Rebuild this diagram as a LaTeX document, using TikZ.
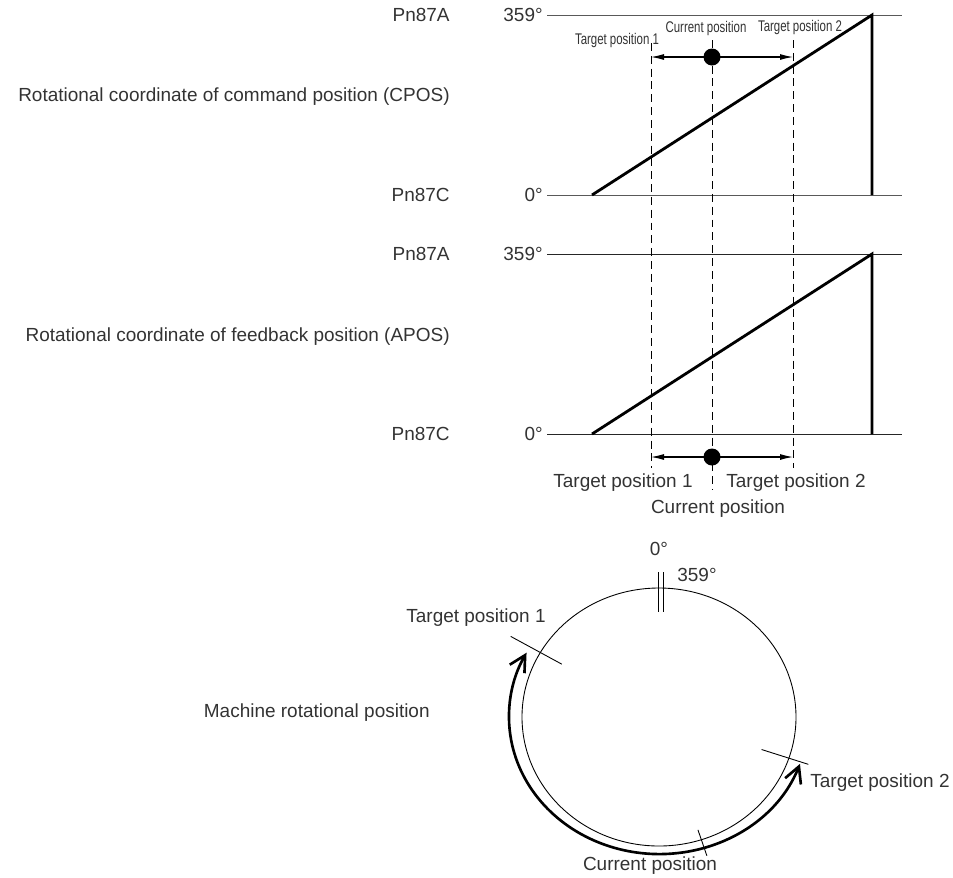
\documentclass[tikz,border=0pt]{standalone}
\usepackage{fontspec}
\setmainfont{Liberation Sans}
\newfontfamily\narrowfont[FakeStretch=0.74]{Liberation Sans}
\usetikzlibrary{positioning,calc,arrows.meta}

\tikzset{
  lbl/.style={font=\fontsize{10.8}{13}\selectfont, text=black!80, inner sep=0pt},
  smalllbl/.style={font=\narrowfont\fontsize{8.8}{10}\selectfont, text=black!80, inner sep=0pt},
  axisline/.style={draw=black!65, line width=0.55pt},
  ramp/.style={line width=1.6pt},
  guide/.style={dash pattern=on 4.5pt off 2.8pt, line width=0.5pt},
  span/.style={{Latex[length=2.6mm,width=1.2mm]}-{Latex[length=2.6mm,width=1.2mm]}, line width=0.6pt},
  posdot/.style={circle, fill=black, inner sep=0pt, minimum size=3.4mm},
  travel/.style={{Straight Barb[length=3.2mm,width=3.4mm]}-{Straight Barb[length=3.2mm,width=3.4mm]}, line width=1.5pt},
}

\begin{document}
\begin{tikzpicture}[x=0.02cm,y=-0.02cm]
  \useasboundingbox (0,0) rectangle (953,877);

  % command position (CPOS)
  \coordinate (CmdTopL) at (547,15);  \coordinate (CmdTopR) at (902,15);
  \coordinate (CmdBotL) at (547,195); \coordinate (CmdBotR) at (902,195);
  \coordinate (CmdStart) at (592,195); \coordinate (CmdPeak) at (872,15); \coordinate (CmdDrop) at (872,195);
  \draw[axisline] (CmdTopL) -- (CmdTopR);
  \draw[axisline] (CmdBotL) -- (CmdBotR);
  \draw[ramp] (CmdStart) -- (CmdPeak) -- (CmdDrop);
  \node[lbl, anchor=east] (CmdMax) at (543,15) {359°};
  \node[lbl, anchor=east] (CmdMin) at (543,195) {0°};
  \node[lbl, anchor=east] (CmdPnA) at (450,15) {Pn87A};
  \node[lbl, anchor=east] (CmdPnC) at (450,195) {Pn87C};
  \node[lbl, anchor=east] (CmdTitle) at (450,97) {Rotational coordinate of command position (CPOS)};

  % feedback position (APOS)
  \coordinate (FbTopL) at (547,254);  \coordinate (FbTopR) at (902,254);
  \coordinate (FbBotL) at (547,434);  \coordinate (FbBotR) at (902,434);
  \coordinate (FbStart) at (592,434); \coordinate (FbPeak) at (872,254); \coordinate (FbDrop) at (872,434);
  \draw[axisline, draw=black!85] (FbTopL) -- (FbTopR);
  \draw[axisline, draw=black!85] (FbBotL) -- (FbBotR);
  \draw[ramp] (FbStart) -- (FbPeak) -- (FbDrop);
  \node[lbl, anchor=east] (FbMax) at (543,254) {359°};
  \node[lbl, anchor=east] (FbMin) at (543,434) {0°};
  \node[lbl, anchor=east] (FbPnA) at (450,254) {Pn87A};
  \node[lbl, anchor=east] (FbPnC) at (450,434) {Pn87C};
  \node[lbl, anchor=east] (FbTitle) at (450,337) {Rotational coordinate of feedback position (APOS)};

  % guide lines
  \coordinate (TgtOneTop) at (651,43);  \coordinate (TgtOneBot) at (651,468);
  \coordinate (CurTop) at (712,40);     \coordinate (CurBot) at (712,490);
  \coordinate (TgtTwoTop) at (793,40);  \coordinate (TgtTwoBot) at (793,468);
  \draw[guide] (TgtOneTop) -- (TgtOneBot);
  \draw[guide] (CurTop) -- (CurBot);
  \draw[guide] (TgtTwoTop) -- (TgtTwoBot);

  \coordinate (SpanTopL) at (651,57); \coordinate (SpanTopR) at (793,57);
  \draw[span] (SpanTopL) -- (SpanTopR);
  \node[posdot] (CurDotTop) at (712,57) {};
  \node[smalllbl] (TgtOneSmall) at (617,40) {Target position 1};
  \node[smalllbl] (CurSmall) at (706,28) {Current position};
  \node[smalllbl] (TgtTwoSmall) at (800,27) {Target position 2};

  \coordinate (SpanBotL) at (651,457); \coordinate (SpanBotR) at (793,457);
  \draw[span] (SpanBotL) -- (SpanBotR);
  \node[posdot] (CurDotBot) at (712,457) {};
  \node[lbl] (TgtOneLbl) at (623,483) {Target position 1};
  \node[lbl] (TgtTwoLbl) at (796,483) {Target position 2};
  \node[lbl] (CurLbl) at (718,509) {Current position};

  % machine rotational position
  \coordinate (Ctr) at (659,717);
  \draw[line width=0.5pt] (Ctr) ellipse [x radius=137, y radius=129];
  \draw[line width=0.5pt] (658,572) -- (658,612);
  \draw[line width=0.5pt] (663,572) -- (663,612);
  \node[lbl] (ZeroDeg) at (659,549) {0°};
  \node[lbl] (FullDeg) at (697,575) {359°};

  \draw[travel] ($(Ctr)+({150*cos(20)},{137*sin(20)})$)
    arc[start angle=20, end angle=208, x radius=150, y radius=137];

  \draw[line width=0.5pt] ($(Ctr)+({0.82*137*cos(210)},{0.82*129*sin(210)})$) -- ($(Ctr)+({1.25*137*cos(210)},{1.25*129*sin(210)})$);
  \draw[line width=0.5pt] ($(Ctr)+({0.79*137*cos(18.6)},{0.79*129*sin(18.6)})$) -- ($(Ctr)+({1.15*137*cos(18.6)},{1.15*129*sin(18.6)})$);
  \draw[line width=0.5pt] ($(Ctr)+({0.92*137*cos(72)},{0.92*129*sin(72)})$) -- ($(Ctr)+({1.13*137*cos(72)},{1.13*129*sin(72)})$);

  \node[lbl] (CircTgtOne) at (476,618) {Target position 1};
  \node[lbl] (CircTgtTwo) at (880,783) {Target position 2};
  \node[lbl] (CircCur) at (650,866) {Current position};
  \node[lbl, anchor=east] (MachTitle) at (430,713) {Machine rotational position};
\end{tikzpicture}
\end{document}
